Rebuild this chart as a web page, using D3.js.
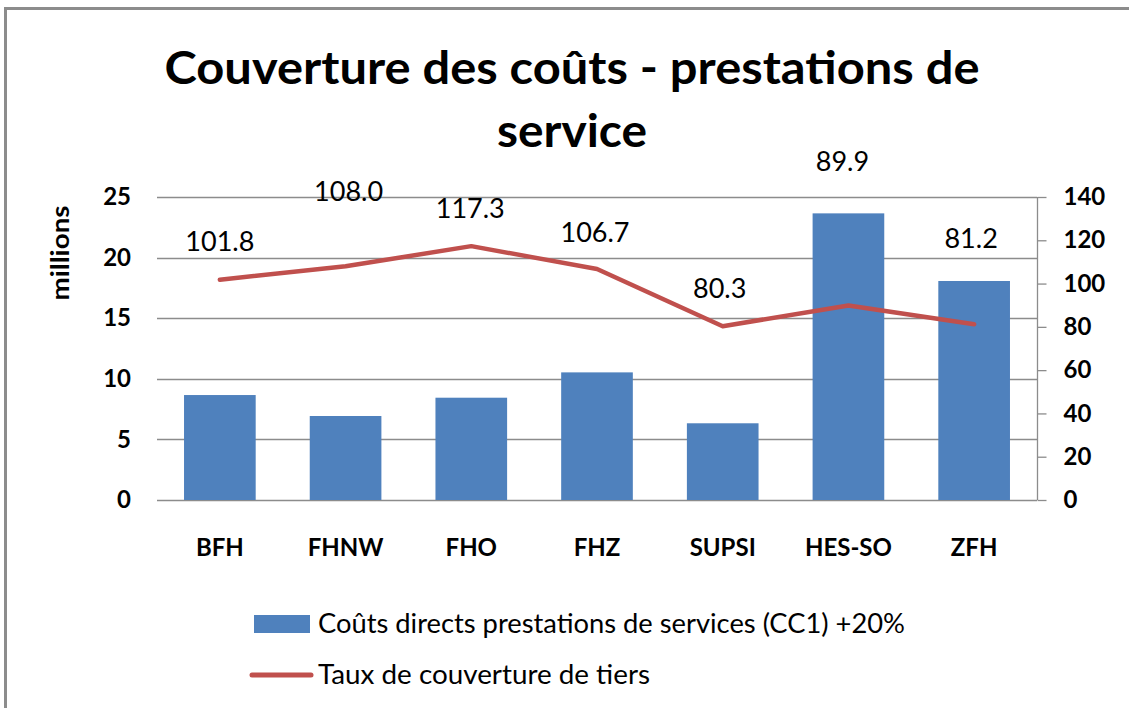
<!DOCTYPE html>
<html>
<head>
<meta charset="utf-8">
<script src="https://cdn.jsdelivr.net/npm/d3@7"></script>
<style>
  html, body { margin: 0; padding: 0; background: #fff; }
  svg { display: block; font-family: Lato, "Open Sans", sans-serif; }
</style>
</head>
<body>
<svg id="chart" width="1129" height="708"></svg>
<script>
// ---- data ----
const categories = ["BFH", "FHNW", "FHO", "FHZ", "SUPSI", "HES-SO", "ZFH"];
const costValues = [8.66, 6.93, 8.44, 10.53, 6.33, 23.65, 18.07];      // millions
const coverageRates = [101.8, 108.0, 117.3, 106.7, 80.3, 89.9, 81.2];  // %
const leftTicks = [0, 5, 10, 15, 20, 25];
const rightTicks = [0, 20, 40, 60, 80, 100, 120, 140];
const titleLines = ["Couverture des coûts - prestations de", "service"];
const seriesNames = ["Coûts directs prestations de services (CC1) +20%", "Taux de couverture de tiers"];
const yAxisLabel = "millions";
// label placement (pixel offsets from the point), as in the original
const labelDy = [-38, -75, -38, -37, -38, -144, -86];
const labelDx = [0, 3, -1, -2, -3, -6, -3];
// text widths measured on the original, used to fit the substitute font
const titleWidths = [815, 150];
const legendWidths = [587, 332];

// ---- layout ----
const svg = d3.select("#chart");
const plot = { left: 157, right: 1037, top: 197, bottom: 500 };
const barColor = "#4F81BD";
const lineColor = "#C0504D";
const gridColor = "#8C8C8C";

svg.append("rect").attr("x", 0).attr("y", 0).attr("width", 1129).attr("height", 708).attr("fill", "#fff");
svg.append("rect").attr("x", 5.5).attr("y", 8.5).attr("width", 1140).attr("height", 720)
  .attr("fill", "none").attr("stroke", "#8C8C8C").attr("stroke-width", 3);

const x = d3.scaleBand().domain(categories).range([plot.left, plot.right])
  .paddingInner(0.43).paddingOuter(0.215);
const yL = d3.scaleLinear().domain([0, 25]).range([plot.bottom, plot.top]);
const yR = d3.scaleLinear().domain([0, 140]).range([plot.bottom, plot.top]);

// title
svg.append("g").selectAll("text").data(titleLines).join("text")
  .attr("x", 572).attr("y", (d, i) => 84 + i * 63)
  .attr("text-anchor", "middle")
  .attr("font-size", 46).attr("font-weight", "bold").attr("fill", "#000")
  .attr("textLength", (d, i) => titleWidths[i]).attr("lengthAdjust", "spacingAndGlyphs")
  .text(d => d);

// gridlines
svg.append("g").selectAll("line").data(leftTicks).join("line")
  .attr("x1", plot.left).attr("x2", plot.right)
  .attr("y1", d => Math.round(yL(d)) + 0.5).attr("y2", d => Math.round(yL(d)) + 0.5)
  .attr("stroke", gridColor).attr("stroke-width", 1.3);

// left axis (labels only)
const leftAxis = d3.axisLeft(yL).tickValues(leftTicks).tickSize(0).tickPadding(0).tickFormat(d3.format("d"));
const gL = svg.append("g").attr("transform", `translate(131,0)`).call(leftAxis);
gL.select(".domain").remove();
gL.selectAll("text").attr("font-size", 24).attr("font-weight", "bold").attr("fill", "#000")
  .attr("font-family", "Lato, sans-serif").attr("x", 0);

// right axis
const rightAxis = d3.axisRight(yR).tickValues(rightTicks).tickSize(9).tickPadding(17).tickFormat(d3.format("d"));
const gR = svg.append("g").attr("transform", `translate(${plot.right + 0.5},0)`).call(rightAxis);
gR.select(".domain").attr("stroke", gridColor).attr("stroke-width", 1.3)
  .attr("d", `M0,${plot.top}V${plot.bottom}`);
gR.selectAll(".tick line").attr("stroke", gridColor).attr("stroke-width", 1.3);
gR.selectAll("text").attr("font-size", 24).attr("font-weight", "bold").attr("fill", "#000")
  .attr("font-family", "Lato, sans-serif");

// y axis title
svg.append("text").attr("transform", "translate(69,253) rotate(-90)")
  .attr("text-anchor", "middle").attr("font-size", 25).attr("font-weight", "bold").attr("fill", "#000")
  .attr("textLength", 95).attr("lengthAdjust", "spacingAndGlyphs")
  .text(yAxisLabel);

// bars
svg.append("g").selectAll("rect").data(costValues).join("rect")
  .attr("x", (d, i) => x(categories[i]))
  .attr("width", x.bandwidth())
  .attr("y", d => yL(d))
  .attr("height", d => yL(0) - yL(d))
  .attr("fill", barColor);

// line
const line = d3.line().x((d, i) => x(categories[i]) + x.bandwidth() / 2).y(d => yR(d));
svg.append("path").datum(coverageRates).attr("d", line)
  .attr("fill", "none").attr("stroke", lineColor).attr("stroke-width", 4.5)
  .attr("stroke-linecap", "round").attr("stroke-linejoin", "round");

// data labels
svg.append("g").selectAll("text").data(coverageRates).join("text")
  .attr("x", (d, i) => x(categories[i]) + x.bandwidth() / 2 + labelDx[i])
  .attr("y", (d, i) => yR(d) + labelDy[i])
  .attr("dy", "0.35em")
  .attr("text-anchor", "middle").attr("font-size", 27).attr("fill", "#000")
  .text(d => d3.format(".1f")(d));

// category labels
svg.append("g").selectAll("text").data(categories).join("text")
  .attr("x", d => x(d) + x.bandwidth() / 2)
  .attr("y", 556)
  .attr("text-anchor", "middle").attr("font-size", 24).attr("font-weight", "bold").attr("fill", "#000")
  .text(d => d);

// legend
const leg = svg.append("g");
leg.append("rect").attr("x", 254).attr("y", 615).attr("width", 56).attr("height", 18).attr("fill", barColor);
leg.append("line").attr("x1", 252).attr("x2", 311).attr("y1", 675).attr("y2", 675)
  .attr("stroke", lineColor).attr("stroke-width", 5).attr("stroke-linecap", "round");
leg.selectAll("text").data(seriesNames).join("text")
  .attr("x", 318).attr("y", (d, i) => 624 + i * 51).attr("dy", "0.35em")
  .attr("font-size", 26).attr("fill", "#000")
  .attr("textLength", (d, i) => legendWidths[i]).attr("lengthAdjust", "spacingAndGlyphs")
  .text(d => d);
</script>
</body>
</html>
